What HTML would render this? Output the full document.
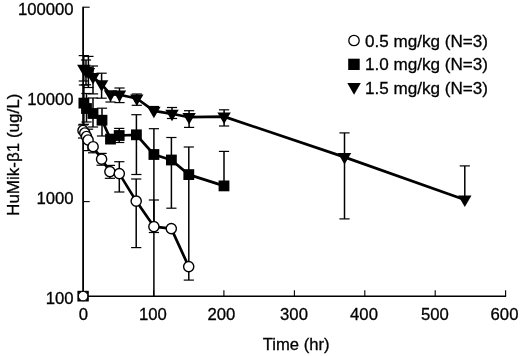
<!DOCTYPE html>
<html><head><meta charset="utf-8"><title>chart</title>
<style>html,body{margin:0;padding:0;background:#fff}svg{display:block}</style></head>
<body>
<svg width="520" height="356" viewBox="0 0 520 356">
<rect width="520" height="356" fill="#fff"/>
<g stroke="#000" fill="none">
<path d="M83.1 6.7V296.2" stroke-width="1.8"/>
<path d="M82.19999999999999 296.2H506.1" stroke-width="1.5"/>
<path d="M83.1 7.2H89.7" stroke-width="1.1"/>
<path d="M83.1 201.6H89.7" stroke-width="1.1"/>
<path d="M153.6 296.2V290.3" stroke-width="1.1"/>
<path d="M223.9 296.2V290.3" stroke-width="1.1"/>
<path d="M294.4 296.2V290.3" stroke-width="1.1"/>
<path d="M364.8 296.2V290.3" stroke-width="1.1"/>
<path d="M435.2 296.2V290.3" stroke-width="1.1"/>
<path d="M505.6 296.2V290.3" stroke-width="1.1"/>
</g>
<g stroke="#000" stroke-width="1.2" fill="none">
<path d="M83.0 130.5V125.0" stroke-width="1.5"/><path d="M77.9 125.0H88.1"/><path d="M83.0 130.5V138.0" stroke-width="1.5"/><path d="M77.9 138.0H88.1"/>


<path d="M88.1 140.0V129.2" stroke-width="1.5"/><path d="M83.0 129.2H93.2"/><path d="M88.1 140.0V150.6" stroke-width="1.5"/><path d="M83.0 150.6H93.2"/>
<path d="M93.1 146.7V152.8" stroke-width="1.5"/><path d="M88.0 152.8H98.2"/>
<path d="M101.6 159.2V153.4" stroke-width="1.5"/><path d="M96.5 153.4H106.7"/><path d="M101.6 159.2V165.2" stroke-width="1.5"/><path d="M96.5 165.2H106.7"/>
<path d="M109.9 171.6V165.4" stroke-width="1.5"/><path d="M104.8 165.4H115.0"/><path d="M109.9 171.6V178.3" stroke-width="1.5"/><path d="M104.8 178.3H115.0"/>
<path d="M119.3 173.6V161.7" stroke-width="1.5"/><path d="M114.2 161.7H124.4"/><path d="M119.3 173.6V192.0" stroke-width="1.5"/><path d="M114.2 192.0H124.4"/>
<path d="M136.2 201.1V179.0" stroke-width="1.5"/><path d="M131.1 179.0H141.3"/><path d="M136.2 201.1V247.6" stroke-width="1.5"/><path d="M131.1 247.6H141.3"/>
<path d="M153.9 226.6V200.0" stroke-width="1.5"/><path d="M148.8 200.0H159.0"/><path d="M153.9 226.6V296.2" stroke-width="1.5"/>


<path d="M83.9 103.1V85.0" stroke-width="1.5"/><path d="M78.8 85.0H89.0"/><path d="M83.9 103.1V124.3" stroke-width="1.5"/><path d="M78.8 124.3H89.0"/>
<path d="M86.5 108.5V93.5" stroke-width="1.5"/><path d="M81.4 93.5H91.6"/><path d="M86.5 108.5V122.0" stroke-width="1.5"/><path d="M81.4 122.0H91.6"/>
<path d="M93.0 113.5V98.0" stroke-width="1.5"/><path d="M87.9 98.0H98.1"/><path d="M93.0 113.5V127.0" stroke-width="1.5"/><path d="M87.9 127.0H98.1"/>
<path d="M102.0 120.2V108.2" stroke-width="1.5"/><path d="M96.9 108.2H107.1"/><path d="M102.0 120.2V136.0" stroke-width="1.5"/><path d="M96.9 136.0H107.1"/>

<path d="M119.2 135.5V128.4" stroke-width="1.5"/><path d="M114.1 128.4H124.3"/><path d="M119.2 135.5V142.5" stroke-width="1.5"/><path d="M114.1 142.5H124.3"/>
<path d="M136.4 134.8V114.7" stroke-width="1.5"/><path d="M131.3 114.7H141.5"/><path d="M136.4 134.8V174.5" stroke-width="1.5"/><path d="M131.3 174.5H141.5"/>
<path d="M153.9 154.5V128.7" stroke-width="1.5"/><path d="M148.8 128.7H159.0"/><path d="M153.9 154.5V232.5" stroke-width="1.5"/><path d="M148.8 232.5H159.0"/>
<path d="M171.4 160.0V137.5" stroke-width="1.5"/><path d="M166.3 137.5H176.5"/><path d="M171.4 160.0V208.2" stroke-width="1.5"/><path d="M166.3 208.2H176.5"/>
<path d="M188.8 174.6V147.0" stroke-width="1.5"/><path d="M183.7 147.0H193.9"/><path d="M188.8 174.6V280.1" stroke-width="1.5"/><path d="M183.7 280.1H193.9"/>
<path d="M224.0 185.9V151.4" stroke-width="1.5"/><path d="M218.9 151.4H229.1"/>
<path d="M83.8 68.5V55.6" stroke-width="1.5"/><path d="M78.7 55.6H88.9"/><path d="M83.8 68.5V81.0" stroke-width="1.5"/><path d="M78.7 81.0H88.9"/>
<path d="M86.0 70.5V60.0" stroke-width="1.5"/><path d="M80.9 60.0H91.1"/><path d="M86.0 70.5V84.8" stroke-width="1.5"/><path d="M80.9 84.8H91.1"/>
<path d="M88.4 71.7V56.4" stroke-width="1.5"/><path d="M83.3 56.4H93.5"/><path d="M88.4 71.7V87.5" stroke-width="1.5"/><path d="M83.3 87.5H93.5"/>
<path d="M93.0 76.7V66.0" stroke-width="1.5"/><path d="M87.9 66.0H98.1"/><path d="M93.0 76.7V93.9" stroke-width="1.5"/><path d="M87.9 93.9H98.1"/>
<path d="M101.6 83.9V73.2" stroke-width="1.5"/><path d="M96.5 73.2H106.7"/><path d="M101.6 83.9V98.2" stroke-width="1.5"/><path d="M96.5 98.2H106.7"/>
<path d="M110.5 94.0V102.0" stroke-width="1.5"/><path d="M105.4 102.0H115.6"/>
<path d="M119.5 94.3V88.0" stroke-width="1.5"/><path d="M114.4 88.0H124.6"/><path d="M119.5 94.3V102.6" stroke-width="1.5"/><path d="M114.4 102.6H124.6"/>
<path d="M136.8 98.1V94.0" stroke-width="1.5"/><path d="M131.7 94.0H141.9"/><path d="M136.8 98.1V105.3" stroke-width="1.5"/><path d="M131.7 105.3H141.9"/>
<path d="M153.9 110.5V106.5" stroke-width="1.5"/><path d="M148.8 106.5H159.0"/>
<path d="M172.0 113.4V107.5" stroke-width="1.5"/><path d="M166.9 107.5H177.1"/><path d="M172.0 113.4V118.5" stroke-width="1.5"/><path d="M166.9 118.5H177.1"/>
<path d="M189.1 116.8V110.7" stroke-width="1.5"/><path d="M184.0 110.7H194.2"/><path d="M189.1 116.8V127.4" stroke-width="1.5"/><path d="M184.0 127.4H194.2"/>
<path d="M224.1 116.2V109.8" stroke-width="1.5"/><path d="M219.0 109.8H229.2"/><path d="M224.1 116.2V126.0" stroke-width="1.5"/><path d="M219.0 126.0H229.2"/>
<path d="M344.5 156.7V132.9" stroke-width="1.5"/><path d="M339.4 132.9H349.6"/><path d="M344.5 156.7V218.9" stroke-width="1.5"/><path d="M339.4 218.9H349.6"/>
<path d="M464.8 199.3V165.9" stroke-width="1.5"/><path d="M459.7 165.9H469.9"/>
</g>
<polyline fill="none" stroke="#000" stroke-width="2.7" stroke-linejoin="round" points="83.0,130.5 84.8,133.0 86.5,136.5 88.1,140.0 93.1,146.7 101.6,159.2 109.9,171.6 119.3,173.6 136.2,201.1 153.9,226.6 171.3,228.6 188.7,266.6"/>
<polyline fill="none" stroke="#000" stroke-width="2.7" stroke-linejoin="round" points="83.9,103.1 86.5,108.5 93.0,113.5 102.0,120.2 110.5,139.1 119.2,135.5 136.4,134.8 153.9,154.5 171.4,160.0 188.8,174.6 224.0,185.9"/>
<polyline fill="none" stroke="#000" stroke-width="2.7" stroke-linejoin="round" points="83.8,68.9 86.0,70.9 88.4,72.1 93.0,77.1 101.6,84.3 110.5,94.4 119.5,94.7 136.8,98.5 153.9,110.9 172.0,113.8 189.1,117.2 224.1,116.6 344.5,157.1 464.8,199.7"/>
<rect x="77.4" y="290.8" width="11.4" height="10.7" fill="#000"/>
<rect x="78.5" y="97.7" width="10.8" height="10.8" fill="#000"/>
<rect x="81.1" y="103.1" width="10.8" height="10.8" fill="#000"/>
<rect x="87.6" y="108.1" width="10.8" height="10.8" fill="#000"/>
<rect x="96.6" y="114.8" width="10.8" height="10.8" fill="#000"/>
<rect x="105.1" y="133.7" width="10.8" height="10.8" fill="#000"/>
<rect x="113.8" y="130.1" width="10.8" height="10.8" fill="#000"/>
<rect x="131.0" y="129.4" width="10.8" height="10.8" fill="#000"/>
<rect x="148.5" y="149.1" width="10.8" height="10.8" fill="#000"/>
<rect x="166.0" y="154.6" width="10.8" height="10.8" fill="#000"/>
<rect x="183.4" y="169.2" width="10.8" height="10.8" fill="#000"/>
<rect x="218.6" y="180.5" width="10.8" height="10.8" fill="#000"/>
<path d="M77.1 64.8H90.5L83.8 76.3Z" fill="#000"/>
<path d="M79.3 66.8H92.7L86.0 78.3Z" fill="#000"/>
<path d="M81.7 68.0H95.1L88.4 79.5Z" fill="#000"/>
<path d="M86.3 73.0H99.7L93.0 84.5Z" fill="#000"/>
<path d="M94.9 80.2H108.3L101.6 91.7Z" fill="#000"/>
<path d="M103.8 90.3H117.2L110.5 101.8Z" fill="#000"/>
<path d="M112.8 90.6H126.2L119.5 102.1Z" fill="#000"/>
<path d="M130.1 94.4H143.5L136.8 105.9Z" fill="#000"/>
<path d="M147.2 106.8H160.6L153.9 118.3Z" fill="#000"/>
<path d="M165.3 109.7H178.7L172.0 121.2Z" fill="#000"/>
<path d="M182.4 113.1H195.8L189.1 124.6Z" fill="#000"/>
<path d="M217.4 112.5H230.8L224.1 124.0Z" fill="#000"/>
<path d="M337.8 153.0H351.2L344.5 164.5Z" fill="#000"/>
<path d="M458.1 195.6H471.5L464.8 207.1Z" fill="#000"/>
<circle cx="83.0" cy="130.5" r="5.1" fill="#fff" stroke="#000" stroke-width="1.4"/>
<circle cx="84.8" cy="133.0" r="5.1" fill="#fff" stroke="#000" stroke-width="1.4"/>
<circle cx="86.5" cy="136.5" r="5.1" fill="#fff" stroke="#000" stroke-width="1.4"/>
<circle cx="88.1" cy="140.0" r="5.1" fill="#fff" stroke="#000" stroke-width="1.4"/>
<circle cx="93.1" cy="146.7" r="5.1" fill="#fff" stroke="#000" stroke-width="1.4"/>
<circle cx="101.6" cy="159.2" r="5.1" fill="#fff" stroke="#000" stroke-width="1.4"/>
<circle cx="109.9" cy="171.6" r="5.1" fill="#fff" stroke="#000" stroke-width="1.4"/>
<circle cx="119.3" cy="173.6" r="5.1" fill="#fff" stroke="#000" stroke-width="1.4"/>
<circle cx="136.2" cy="201.1" r="5.1" fill="#fff" stroke="#000" stroke-width="1.4"/>
<circle cx="153.9" cy="226.6" r="5.1" fill="#fff" stroke="#000" stroke-width="1.4"/>
<circle cx="171.3" cy="228.6" r="5.1" fill="#fff" stroke="#000" stroke-width="1.4"/>
<circle cx="188.7" cy="266.6" r="5.1" fill="#fff" stroke="#000" stroke-width="1.4"/>
<circle cx="83.1" cy="296.1" r="4.7" fill="#fff" stroke="#000" stroke-width="1.0"/>
<circle cx="354" cy="40.5" r="5.2" fill="#fff" stroke="#000" stroke-width="1.3"/>
<rect x="348.2" y="58.7" width="11.5" height="11.3" fill="#000"/>
<path d="M347.3 83H360.8L354.05 94.7Z" fill="#000"/>
<g font-family="'Liberation Sans', Arial, Helvetica, sans-serif" font-size="17" fill="#000" stroke="#000" stroke-width="0.3">
<text font-size="17.1" x="364.9" y="46.5">0.5 mg/kg (N=3)</text>
<text font-size="17.1" x="364.9" y="70.1">1.0 mg/kg (N=3)</text>
<text font-size="17.1" x="364.9" y="93.8">1.5 mg/kg (N=3)</text>
<text font-size="16.7" x="73.6" y="14.6" text-anchor="end">100000</text>
<text font-size="16.7" x="73.6" y="105.2" text-anchor="end">10000</text>
<text font-size="16.7" x="73.6" y="204.4" text-anchor="end">1000</text>
<text font-size="16.7" x="73.6" y="304.2" text-anchor="end">100</text>
<text font-size="16.7" x="83.4" y="320.3" text-anchor="middle">0</text>
<text font-size="16.7" x="152.9" y="320.3" text-anchor="middle">100</text>
<text font-size="16.7" x="221.4" y="320.3" text-anchor="middle">200</text>
<text font-size="16.7" x="294.0" y="320.3" text-anchor="middle">300</text>
<text font-size="16.7" x="364.0" y="320.3" text-anchor="middle">400</text>
<text font-size="16.7" x="434.8" y="320.3" text-anchor="middle">500</text>
<text font-size="16.7" x="504.5" y="320.3" text-anchor="middle">600</text>
<text font-size="16.6" x="262.8" y="349.6">Time (hr)</text>
<text transform="translate(18.7 215.9) rotate(-90)">HuMik-β1 (ug/L)</text>
</g>
</svg>
</body></html>
